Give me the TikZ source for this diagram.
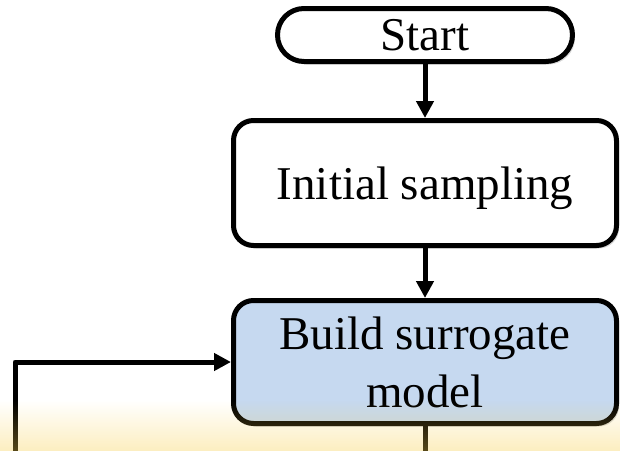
\documentclass[tikz,border=0pt]{standalone}
\usepackage{fontspec}
\setmainfont{Liberation Serif}
\usetikzlibrary{arrows.meta,shadows,fadings}
\definecolor{boxblue}{HTML}{C6D9F0}
\definecolor{overlaygold}{RGB}{247,207,75}
\tikzfading[name=fadeup, top color=transparent!100, bottom color=transparent!0]
\begin{document}
\begin{tikzpicture}[x=1pt,y=-1pt,
  flowbox/.style={draw=black, line width=5pt, rounded corners=20pt, fill=white,
    font=\fontsize{47}{58}\selectfont, align=center, inner sep=0pt, text depth=0pt,
    drop shadow={shadow xshift=2.5pt, shadow yshift=-3pt, opacity=0.3}},
  conn/.style={line width=5pt, -{Triangle[length=17pt,width=17pt]}},
]
\useasboundingbox (0,0) rectangle (620,450);
\node[flowbox, rounded corners=26.5pt, minimum width=295pt, minimum height=53pt] (start) at (425,35) {Start};
\node[flowbox, minimum width=383pt, minimum height=125pt] (init) at (425,183) {Initial sampling};
\node[flowbox, fill=boxblue, minimum width=383pt, minimum height=123pt] (build) at (425,362) {Build surrogate\\model};
\coordinate (fb) at (15,452);
\coordinate (out) at (425,452);
\draw[conn] (start) -- (init);
\draw[conn] (init) -- (build);
\draw[conn, line join=round] (fb) |- (build.west);
\draw[line width=5pt] (build) -- (out);
\fill[overlaygold, opacity=0.36, path fading=fadeup] (0,400) rectangle (620,452);
\end{tikzpicture}
\end{document}
